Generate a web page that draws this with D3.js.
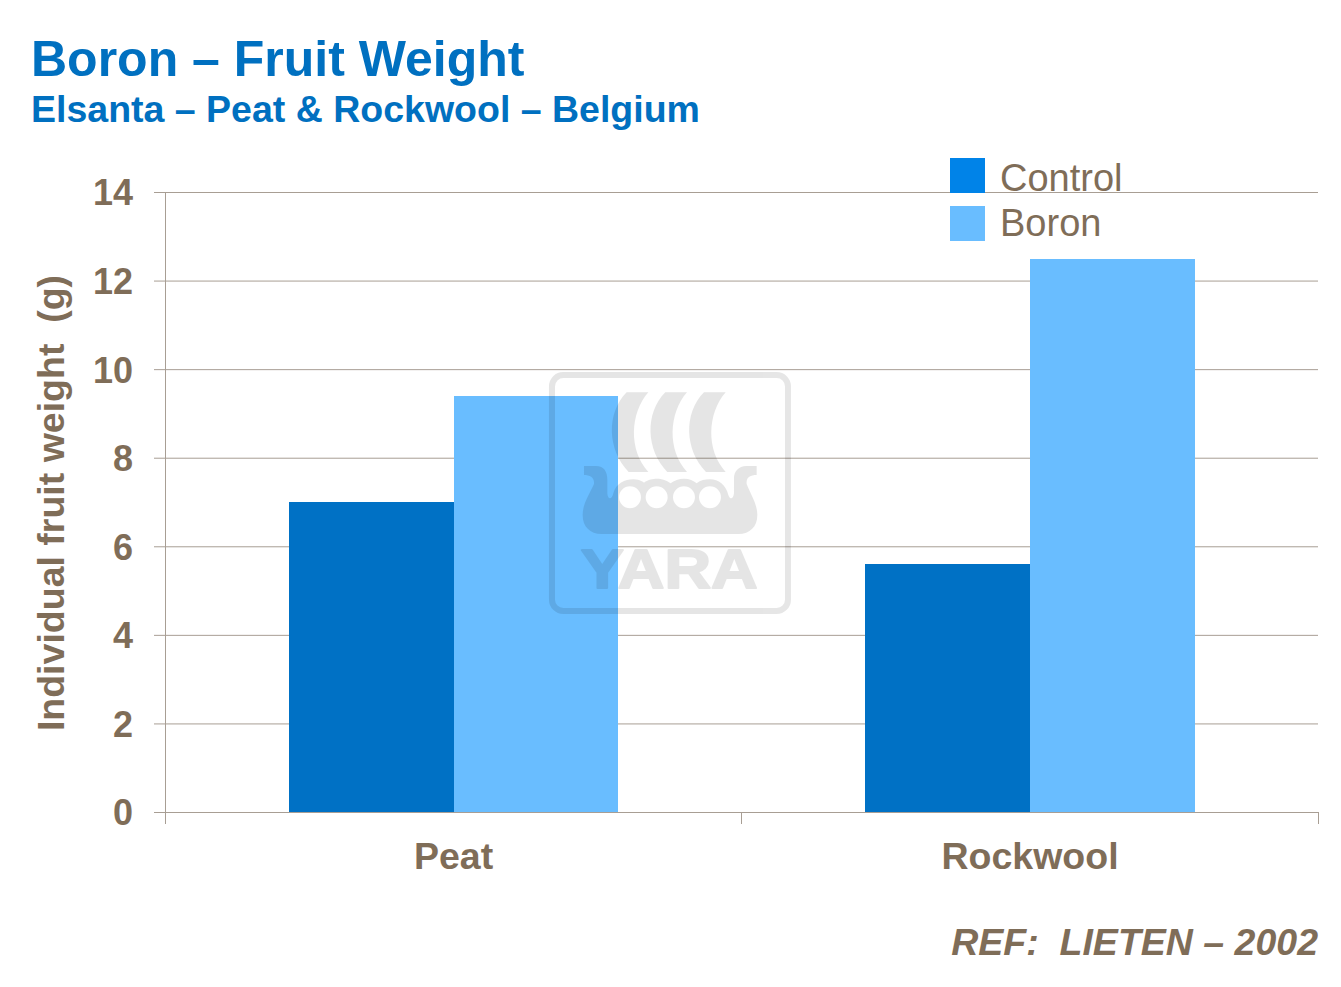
<!DOCTYPE html>
<html><head><meta charset="utf-8">
<script src="https://cdn.jsdelivr.net/npm/d3@7"></script>
<style>html,body{margin:0;padding:0;background:#fff}svg{display:block}text{font-family:"Liberation Sans",Arial,sans-serif}</style>
</head><body><svg id="c" width="1341" height="987"></svg>
<script>
const categories = ["Peat", "Rockwool"];
const seriesNames = ["Control", "Boron"];
const controlValues = [7.0, 5.6];
const boronValues = [9.4, 12.48];
const yTicks = [0, 2, 4, 6, 8, 10, 12, 14];

const textCol = "#7f6d58", gridCol = "#a89e94", blue = "#0071c5", light = "#69bdff", legendDark = "#0083e8", titleCol = "#0070c0";
const svg = d3.select("#c");
const x0 = d3.scaleBand().domain(categories).range([165.3, 1318.3]).paddingInner(0.4286).paddingOuter(0.2143);
const x1 = d3.scaleBand().domain(seriesNames).range([0, x0.bandwidth()]);
const y = d3.scaleLinear().domain([0, 14]).range([812, 192]);

svg.append("text").attr("x", 31).attr("y", 76).attr("font-size", 50).attr("font-weight", "bold").attr("fill", titleCol).text("Boron – Fruit Weight");
svg.append("text").attr("x", 31).attr("y", 122).attr("font-size", 37.5).attr("font-weight", "bold").attr("fill", titleCol).text("Elsanta – Peat & Rockwool – Belgium");

// grid lines
svg.append("g").selectAll("line").data(yTicks).join("line")
  .attr("x1", 154).attr("x2", 1318).attr("y1", d => y(d) + .5).attr("y2", d => y(d) + .5)
  .attr("stroke", gridCol).attr("stroke-width", 1);

// bars
const seriesData = [controlValues, boronValues];
const bars = svg.append("g").attr("shape-rendering", "crispEdges");
seriesNames.forEach((s, i) => {
  bars.selectAll("rect.s" + i).data(seriesData[i]).join("rect").attr("class", "s" + i)
    .attr("x", (d, j) => x0(categories[j]) + x1(s))
    .attr("width", x1.bandwidth())
    .attr("y", d => y(d)).attr("height", d => y(0) - y(d))
    .attr("fill", i ? light : blue);
});

// watermark
const logo = svg.append("g").attr("transform", "translate(530,360) scale(0.3333)").attr("opacity", 0.098).attr("fill", "#000");
logo.append("rect").attr("x", 66).attr("y", 45).attr("width", 708).attr("height", 708).attr("rx", 34)
  .attr("fill", "none").attr("stroke", "#000").attr("stroke-width", 18);
[0, 116, 232].forEach(dx => logo.append("path").attr("transform", `translate(${dx},0)`)
  .attr("d", "M290,97 L355,97 C300,160 295,270 355,336 L296,336 C232,270 228,160 290,97Z"));
logo.append("path").attr("fill-rule", "evenodd").attr("d",
  "M162,318 L198,318 C222,318 232,335 232,360 L232,400 C233,420 246,420 250,400 C258,370 285,358 310,358 C330,358 342,368 342,368 C355,358 370,356 380,356 C395,356 412,362 422,370 C432,362 448,356 462,356 C478,356 490,362 500,370 C512,360 525,358 540,358 C565,358 588,375 595,405 C600,420 610,418 612,400 L612,355 C612,335 625,318 650,318 L680,318 L680,345 C660,345 648,352 650,372 C660,400 682,430 682,465 C682,500 660,522 625,522 L215,522 C180,522 158,500 158,465 C158,430 180,400 192,372 C194,352 180,345 162,345Z" +
  " M267,412 a33,33 0 1,0 66,0 a33,33 0 1,0 -66,0Z M347,412 a33,33 0 1,0 66,0 a33,33 0 1,0 -66,0Z M429,412 a33,33 0 1,0 66,0 a33,33 0 1,0 -66,0Z M507,412 a33,33 0 1,0 66,0 a33,33 0 1,0 -66,0Z");
logo.append("text").attr("x", 152).attr("y", 683).attr("font-size", 164).attr("font-weight", "bold")
  .attr("stroke", "#000").attr("stroke-width", 6).attr("stroke-linejoin", "round")
  .attr("textLength", 531).attr("lengthAdjust", "spacingAndGlyphs").text("YARA");

// y axis labels
const yAxis = d3.axisLeft(y).tickValues(yTicks).tickSize(11).tickPadding(21);
svg.append("g").attr("transform", "translate(165,0)").call(yAxis).call(g => {
  g.select(".domain").remove();
  g.selectAll(".tick line").remove();
  g.selectAll("text").attr("fill", textCol).attr("font-size", 36).attr("font-weight", "bold").attr("font-family", '"Liberation Sans"').attr("dy", "0.36em");
});
svg.append("line").attr("x1", 165.5).attr("x2", 165.5).attr("y1", 192).attr("y2", 824).attr("stroke", gridCol);
// x axis
const xBoundaries = [165, (x0(categories[0]) + x0(categories[1]) + x0.bandwidth()) / 2 - 1, 1318];
svg.append("g").selectAll("line").data(xBoundaries).join("line")
  .attr("x1", d => Math.round(d) + .5).attr("x2", d => Math.round(d) + .5).attr("y1", 812).attr("y2", 824).attr("stroke", gridCol);
svg.append("line").attr("x1", 154).attr("x2", 1318).attr("y1", 812.5).attr("y2", 812.5).attr("stroke", gridCol);
svg.append("g").selectAll("text").data(categories).join("text")
  .attr("x", d => x0(d) + x0.bandwidth() / 2).attr("y", 869).attr("text-anchor", "middle")
  .attr("font-size", 37.5).attr("font-weight", "bold").attr("fill", textCol).text(d => d);

svg.append("text").attr("transform", "translate(64,503) rotate(-90)").attr("text-anchor", "middle")
  .attr("font-size", 37.5).attr("font-weight", "bold").attr("fill", textCol).style("white-space", "pre").text("Individual fruit weight  (g)");

// legend
seriesNames.forEach((s, i) => {
  svg.append("rect").attr("x", 950).attr("y", 158 + i * 48).attr("width", 35).attr("height", 35).attr("fill", i ? light : legendDark);
  svg.append("text").attr("x", 1000).attr("y", 191 + i * 45).attr("font-size", 38).attr("fill", textCol).text(s);
});

svg.append("text").attr("x", 1318).attr("y", 955).attr("text-anchor", "end").attr("font-size", 37.5)
  .attr("font-weight", "bold").attr("font-style", "italic").attr("fill", textCol).style("white-space", "pre").text("REF:  LIETEN – 2002");
</script></body></html>
